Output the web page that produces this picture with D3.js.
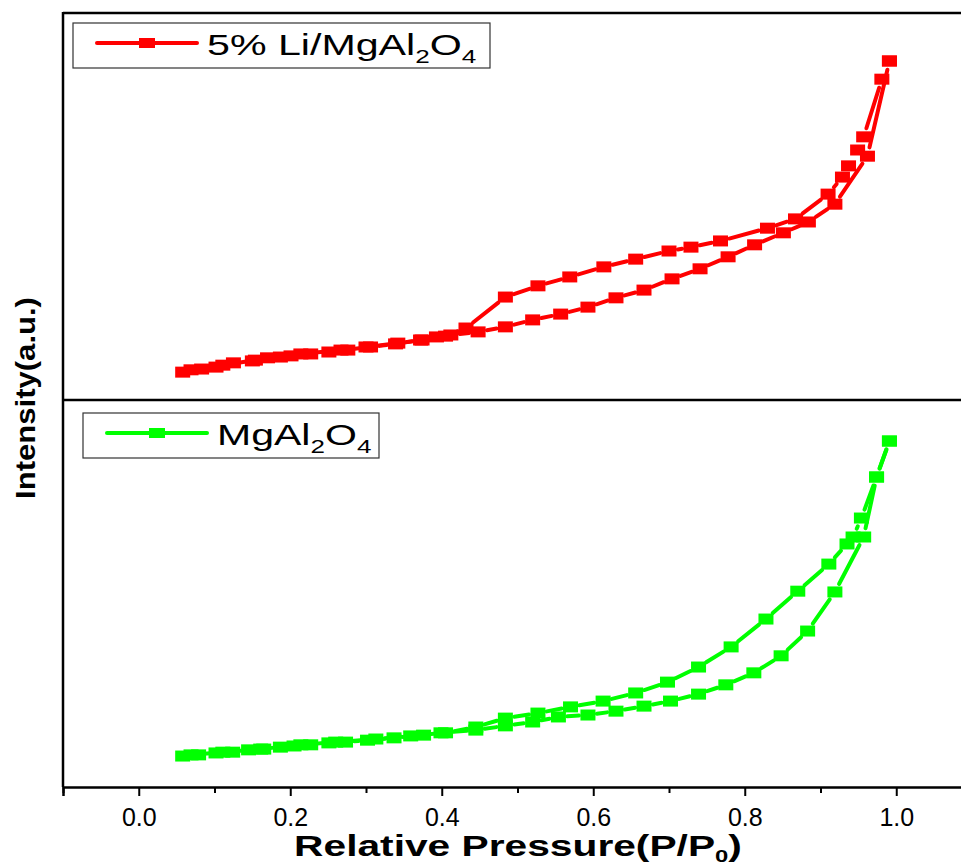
<!DOCTYPE html>
<html>
<head>
<meta charset="utf-8">
<script src="https://cdn.jsdelivr.net/npm/d3@7"></script>
<style>
  body { margin: 0; background: #fff; }
  svg { display: block; }
  text { font-family: Arial, "Liberation Sans", sans-serif; }
</style>
</head>
<body>
<svg id="chart" width="961" height="866"></svg>
<script>
// Relative pressure (P/P0) and intensity (a.u.)

// 5% Li/MgAl2O4 - adsorption branch
const liAdsP = [0.058, 0.083, 0.102, 0.125, 0.150, 0.170, 0.187, 0.201, 0.227, 0.251, 0.276, 0.300, 0.342, 0.374, 0.393, 0.412, 0.448, 0.484, 0.520, 0.557, 0.593, 0.630, 0.667, 0.704, 0.741, 0.778, 0.813, 0.851, 0.884, 0.919, 0.962, 0.991];
const liAdsV = [7.2, 8.0, 8.5, 9.6, 10.1, 10.9, 11.1, 11.4, 11.9, 12.4, 12.9, 13.7, 14.7, 15.5, 16.3, 16.8, 17.6, 18.9, 20.7, 22.2, 24.0, 26.4, 28.4, 31.3, 33.9, 37.0, 40.1, 43.2, 46.0, 50.6, 63.0, 87.6];
// 5% Li/MgAl2O4 - desorption branch
const liDesP = [0.991, 0.981, 0.957, 0.949, 0.937, 0.929, 0.910, 0.867, 0.830, 0.768, 0.729, 0.700, 0.656, 0.614, 0.569, 0.527, 0.484, 0.432, 0.405, 0.372, 0.339, 0.306, 0.267, 0.214, 0.154, 0.111, 0.069];
const liDesV = [87.6, 82.9, 68.0, 64.6, 60.5, 57.6, 53.2, 46.8, 44.4, 41.1, 39.5, 38.5, 36.4, 34.4, 31.8, 29.5, 26.6, 18.6, 16.5, 15.5, 14.5, 13.7, 12.9, 11.9, 10.3, 9.0, 7.8];

// MgAl2O4 - adsorption branch
const mgAdsP = [0.058, 0.079, 0.102, 0.124, 0.145, 0.165, 0.187, 0.205, 0.227, 0.251, 0.273, 0.302, 0.337, 0.376, 0.399, 0.445, 0.484, 0.520, 0.554, 0.593, 0.630, 0.667, 0.702, 0.739, 0.775, 0.812, 0.848, 0.883, 0.919, 0.957, 0.974, 0.991];
const mgAdsV = [8.0, 8.3, 8.8, 9.0, 9.6, 9.8, 10.3, 10.6, 10.9, 11.4, 11.6, 12.1, 12.7, 13.4, 14.0, 14.7, 15.8, 16.8, 18.1, 18.6, 19.6, 20.9, 22.2, 24.0, 26.4, 29.5, 33.9, 40.3, 50.4, 64.6, 80.1, 89.4];
// MgAl2O4 - desorption branch
const mgDesP = [0.991, 0.974, 0.954, 0.943, 0.935, 0.911, 0.870, 0.828, 0.782, 0.739, 0.698, 0.656, 0.613, 0.570, 0.527, 0.484, 0.445, 0.405, 0.359, 0.313, 0.260, 0.214, 0.161, 0.111, 0.069];
const mgDesV = [89.4, 80.1, 69.5, 64.6, 62.8, 57.6, 50.6, 43.4, 36.2, 31.0, 27.1, 24.3, 22.2, 20.7, 19.1, 17.8, 15.5, 14.0, 13.2, 12.4, 11.6, 10.9, 9.8, 9.0, 8.3];

const majorTicks = [0.0, 0.2, 0.4, 0.6, 0.8, 1.0];
const minorTicks = [-0.1, 0.1, 0.3, 0.5, 0.7, 0.9, 1.1];

const panels = [
  { name: '5% Li/MgAl', sub1: '2', mid: 'O', sub2: '4', color: '#ff0000',
    branches: [[liAdsP, liAdsV], [liDesP, liDesV]], top: 13, bottom: 400,
    legend: { x: 73, y: 23, w: 417, h: 45, textW: 270 } },
  { name: 'MgAl', sub1: '2', mid: 'O', sub2: '4', color: '#00ff00',
    branches: [[mgAdsP, mgAdsV], [mgDesP, mgDesV]], top: 400, bottom: 787,
    legend: { x: 83, y: 413, w: 296, h: 45, textW: 155 } }
];

const svg = d3.select('#chart');
const left = 63, axisY = 787;
const x = d3.scaleLinear().domain([-0.1, 1.1]).range([left, left + 1.2 * 757.5]);

const markerW = 15, markerH = 11, gap = 9;

// ratio that brings a group's width to the target width
function fitText(g, target) {
  const w = g.node().getBBox().width;
  return w ? target / w : 1;
}

panels.forEach(panel => {
  const y = d3.scaleLinear().domain([0, 100]).range([panel.bottom, panel.top]);
  const layer = svg.append('g');

  panel.branches.forEach(([ps, vs]) => {
    const pts = ps.map((p, i) => [x(p), y(vs[i])]);
    // line segments stop short of the symbols
    for (let i = 1; i < pts.length; i++) {
      const [x0, y0] = pts[i - 1];
      const [x1, y1] = pts[i];
      const len = Math.hypot(x1 - x0, y1 - y0);
      if (len - 2 * gap < 2) continue;
      const ux = (x1 - x0) / len, uy = (y1 - y0) / len;
      layer.append('line')
        .attr('x1', x0 + ux * gap).attr('y1', y0 + uy * gap)
        .attr('x2', x1 - ux * gap).attr('y2', y1 - uy * gap)
        .attr('stroke', panel.color)
        .attr('stroke-width', 4)
        .attr('stroke-linecap', 'round');
    }
  });

  panel.branches.forEach(([ps, vs]) => {
    layer.selectAll(null)
      .data(ps.map((p, i) => [p, vs[i]]))
      .join('rect')
      .attr('x', d => x(d[0]) - markerW / 2)
      .attr('y', d => y(d[1]) - markerH / 2)
      .attr('width', markerW)
      .attr('height', markerH)
      .attr('fill', panel.color);
  });

  // legend
  const lg = panel.legend;
  const legend = svg.append('g');
  legend.append('rect')
    .attr('x', lg.x).attr('y', lg.y).attr('width', lg.w).attr('height', lg.h)
    .attr('fill', 'none').attr('stroke', '#333').attr('stroke-width', 1.2);
  const cy = lg.y + 20;
  legend.append('line')
    .attr('x1', lg.x + 24).attr('x2', lg.x + 124).attr('y1', cy).attr('y2', cy)
    .attr('stroke', panel.color).attr('stroke-width', 4).attr('stroke-linecap', 'round');
  legend.append('rect')
    .attr('x', lg.x + 66).attr('y', cy - 5).attr('width', 16).attr('height', 10)
    .attr('fill', panel.color);
  const tg = legend.append('g');
  const t = tg.append('text').attr('font-size', 30).attr('fill', '#000');
  t.append('tspan').text(panel.name);
  t.append('tspan').attr('font-size', 19).attr('dy', 8).text(panel.sub1);
  t.append('tspan').attr('dy', -8).text(panel.mid);
  t.append('tspan').attr('font-size', 19).attr('dy', 8).text(panel.sub2);
  const sx = fitText(tg, lg.textW);
  tg.attr('transform', `translate(${lg.x + 134},${lg.y + 32}) scale(${sx},1)`);
});

// frame
const frame = svg.append('g').attr('stroke', '#000').attr('stroke-width', 2.5);
frame.append('line').attr('x1', left).attr('x2', 961).attr('y1', 13).attr('y2', 13);
frame.append('line').attr('x1', left).attr('x2', 961).attr('y1', 400).attr('y2', 400);
frame.append('line').attr('x1', left).attr('x2', left).attr('y1', 12).attr('y2', axisY);

// x axis with major and minor ticks
const axisMinor = d3.axisBottom(x).tickValues(minorTicks).tickSize(6).tickFormat('');
const axisMajor = d3.axisBottom(x).tickValues(majorTicks).tickSize(9).tickPadding(8)
  .tickFormat(d3.format('.1f'));
svg.append('g').attr('transform', `translate(0,${axisY})`).call(axisMinor)
  .call(g => g.select('.domain').remove())
  .call(g => g.selectAll('line').attr('stroke-width', 2));
const ax = svg.append('g').attr('transform', `translate(0,${axisY})`).call(axisMajor);
ax.select('.domain').attr('stroke-width', 2.5);
ax.selectAll('line').attr('stroke-width', 2);
ax.selectAll('text')
  .attr('font-size', 25)
  .attr('font-family', 'Arial, "Liberation Sans", sans-serif')
  .attr('fill', '#000')
  .attr('dy', null)
  .attr('y', 39);

// x title
const xt = svg.append('g');
const xText = xt.append('text').attr('font-size', 29).attr('font-weight', 'bold').attr('text-anchor', 'middle');
xText.append('tspan').text('Relative Pressure(P/P');
xText.append('tspan').attr('font-size', 17).attr('dy', 6).text('0');
xText.append('tspan').attr('dy', -6).text(')');
const xsx = fitText(xt, 448);
xt.attr('transform', `translate(518,856) scale(${xsx},1)`);

// y title
const yt = svg.append('g');
yt.append('text')
  .attr('font-size', 28)
  .attr('font-weight', 'bold')
  .attr('text-anchor', 'middle')
  .attr('font-family', '"Liberation Sans Narrow", "Arial Narrow", Arial, sans-serif')
  .text('Intensity(a.u.)');
const ysx = fitText(yt, 202);
yt.attr('transform', `translate(35,398) rotate(-90) scale(${ysx},1)`);
</script>
</body>
</html>
